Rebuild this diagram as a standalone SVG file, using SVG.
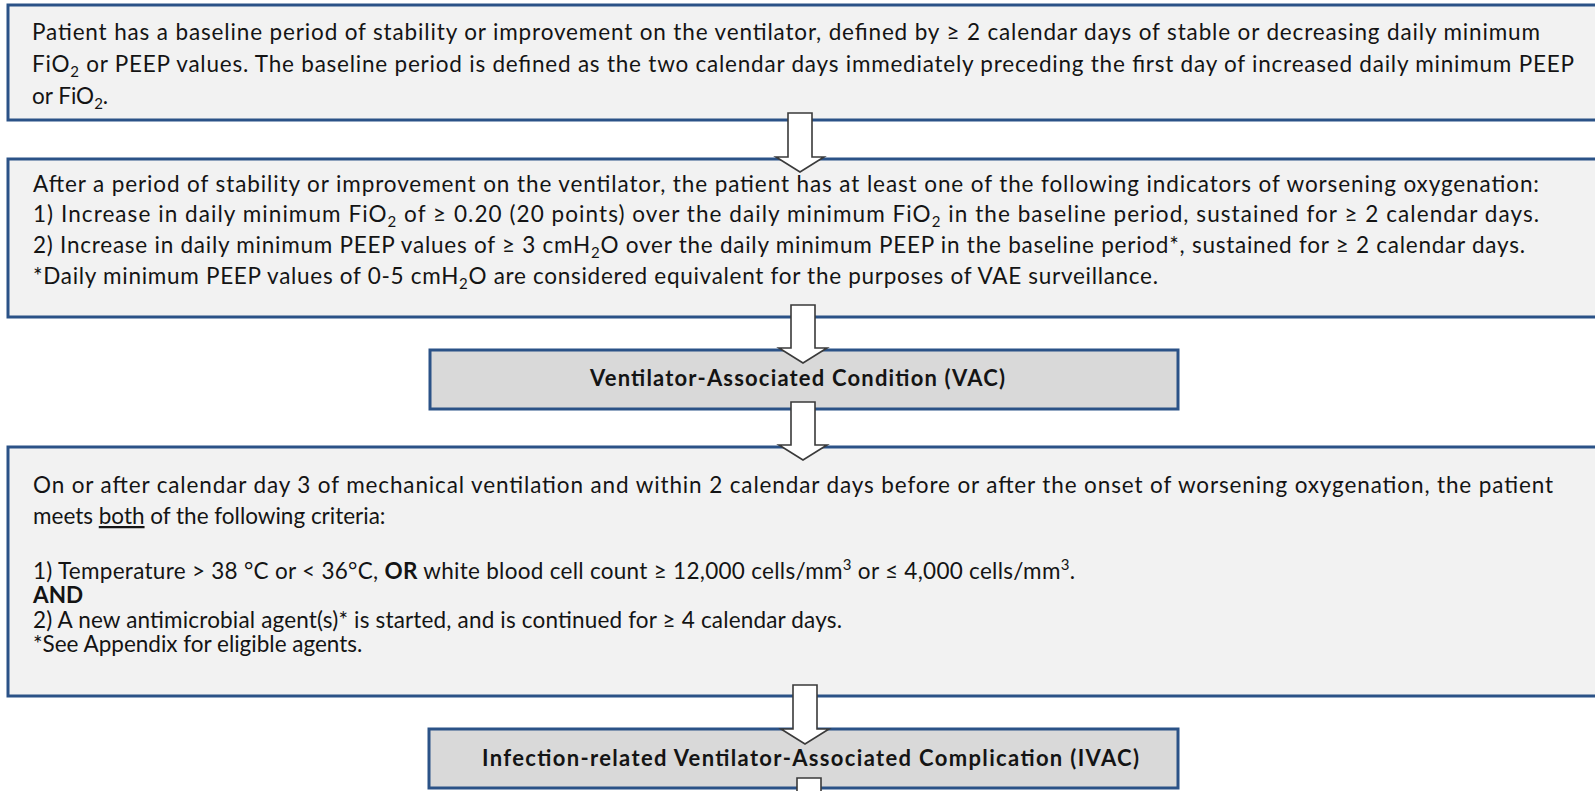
<svg xmlns="http://www.w3.org/2000/svg" width="1595" height="791" viewBox="0 0 1595 791">
<style>
.big{fill:#f2f2f2;stroke:#2b5287;stroke-width:3}
.small{fill:#d9d9d9;stroke:#2b5287;stroke-width:3}
.t{font-family:Lato,"Liberation Sans",sans-serif;font-size:22.5px;fill:#141414}
.b{font-family:Lato,"Liberation Sans",sans-serif;font-size:22px;font-weight:bold;fill:#141414}
.arrow{fill:#ffffff;stroke:#3a3a3a;stroke-width:1.6;stroke-linejoin:miter}
.sub{font-size:15px}
</style>
<rect width="1595" height="791" fill="#ffffff"/>
<g id="node-baseline">
<rect class="big" x="8" y="5" width="1600" height="115"/>
<text class="t" x="32" y="40" textLength="1508" lengthAdjust="spacing">Patient has a baseline period of stability or improvement on the ventilator, defined by ≥ 2 calendar days of stable or decreasing daily minimum</text>
<text class="t" x="32" y="72" textLength="1542" lengthAdjust="spacing">FiO<tspan class="sub" dy="5">2</tspan><tspan dy="-5"> or PEEP values. The baseline period is defined as the two calendar days immediately preceding the first day of increased daily minimum PEEP</tspan></text>
<text class="t" x="32" y="104">or FiO<tspan class="sub" dy="5">2</tspan><tspan dy="-5">.</tspan></text>
</g>
<g id="node-worsening">
<rect class="big" x="8" y="159" width="1600" height="158"/>
<text class="t" x="33" y="192" textLength="1506" lengthAdjust="spacing">After a period of stability or improvement on the ventilator, the patient has at least one of the following indicators of worsening oxygenation:</text>
<text class="t" x="33" y="222" textLength="1506" lengthAdjust="spacing">1) Increase in daily minimum FiO<tspan class="sub" dy="5">2</tspan><tspan dy="-5"> of ≥ 0.20 (20 points) over the daily minimum FiO</tspan><tspan class="sub" dy="5">2</tspan><tspan dy="-5"> in the baseline period, sustained for ≥ 2 calendar days.</tspan></text>
<text class="t" x="33" y="253" textLength="1492" lengthAdjust="spacing">2) Increase in daily minimum PEEP values of ≥ 3 cmH<tspan class="sub" dy="5">2</tspan><tspan dy="-5">O over the daily minimum PEEP in the baseline period*, sustained for ≥ 2 calendar days.</tspan></text>
<text class="t" x="33" y="284" textLength="1125" lengthAdjust="spacing">*Daily minimum PEEP values of 0-5 cmH<tspan class="sub" dy="5">2</tspan><tspan dy="-5">O are considered equivalent for the purposes of VAE surveillance.</tspan></text>
</g>
<g id="node-vac">
<rect class="small" x="430" y="350" width="748" height="59"/>
<text class="b" x="590" y="386" textLength="415" lengthAdjust="spacing">Ventilator-Associated Condition (VAC)</text>
</g>
<g id="node-infection">
<rect class="big" x="8" y="447" width="1600" height="249"/>
<text class="t" x="33" y="493" textLength="1520" lengthAdjust="spacing">On or after calendar day 3 of mechanical ventilation and within 2 calendar days before or after the onset of worsening oxygenation, the patient</text>
<text class="t" x="33" y="524">meets <tspan text-decoration="underline">both</tspan> of the following criteria:</text>
<text class="t" x="33" y="579" textLength="1042" lengthAdjust="spacing">1) Temperature &gt; 38 °C or &lt; 36°C, <tspan font-weight="bold">OR</tspan> white blood cell count ≥ 12,000 cells/mm<tspan class="sub" dy="-9">3</tspan><tspan dy="9"> or ≤ 4,000 cells/mm</tspan><tspan class="sub" dy="-9">3</tspan><tspan dy="9">.</tspan></text>
<text class="t" x="33" y="603" font-weight="bold">AND</text>
<text class="t" x="33" y="628" textLength="809" lengthAdjust="spacing">2) A new antimicrobial agent(s)* is started, and is continued for ≥ 4 calendar days.</text>
<text class="t" x="33" y="652">*See Appendix for eligible agents.</text>
</g>
<g id="node-ivac">
<rect class="small" x="429" y="729" width="749" height="59"/>
<text class="b" x="482" y="766" textLength="657" lengthAdjust="spacing">Infection-related Ventilator-Associated Complication (IVAC)</text>
</g>
<g id="connectors">
<path class="arrow" d="M788,113 H812 V157 H824 L800,172 L776,157 H788 Z"/>
<path class="arrow" d="M791,305 H815 V348 H827 L803,363 L779,348 H791 Z"/>
<path class="arrow" d="M791,402 H815 V445 H827 L803,460 L779,445 H791 Z"/>
<path class="arrow" d="M793,685 H817 V729 H829 L805,744 L781,729 H793 Z"/>
<path class="arrow" d="M797,778 H821 V800 H797 Z"/>
</g>
</svg>
